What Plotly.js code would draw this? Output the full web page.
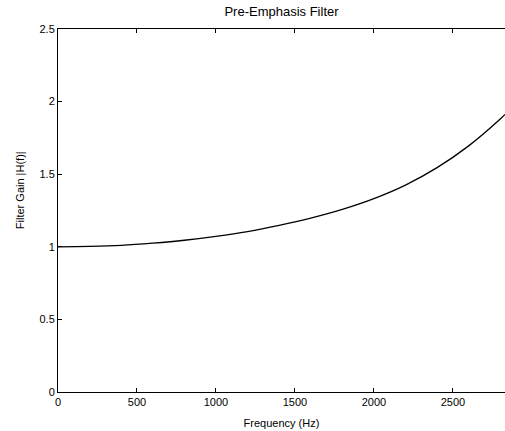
<!DOCTYPE html>
<html>
<head>
<meta charset="utf-8">
<script src="https://cdn.plot.ly/plotly-3.0.1.min.js"></script>
<style>html,body{margin:0;padding:0;background:#fff;}#chart{width:505px;height:431px;}</style>
</head>
<body>
<div id="chart"></div>
<script>
const freqHz = [0, 200, 400, 600, 800, 1000, 1200, 1400, 1600, 1800, 2000, 2200, 2400, 2600, 2800, 2830];
const gain = [1.000, 1.003, 1.010, 1.025, 1.045, 1.072, 1.105, 1.148, 1.198, 1.258, 1.332, 1.425, 1.545, 1.695, 1.880, 1.912];
const xTicks = [0, 500, 1000, 1500, 2000, 2500];
const yTicks = [0, 0.5, 1, 1.5, 2, 2.5];

const font = {family: 'Liberation Sans, Arial, sans-serif', size: 11, color: '#000000'};

Plotly.newPlot('chart', [{
  x: freqHz, y: gain, type: 'scatter', mode: 'lines', line: {color: '#000', width: 1.3, shape: 'spline', smoothing: 1}
}], {
  width: 505, height: 431,
  margin: {l: 58, r: 0, t: 29, b: 39},
  paper_bgcolor: '#fff', plot_bgcolor: '#fff',
  showlegend: false,
  font: font,
  title: {text: 'Pre-Emphasis Filter', font: {family: font.family, size: 13, color: '#000'},
          xref: 'paper', x: 0.5, xanchor: 'center', y: 0.985, yanchor: 'top'},
  xaxis: {
    range: [0, 2830], tickvals: xTicks, ticktext: xTicks.map(String),
    ticks: 'inside', ticklen: 4, tickcolor: '#000', showline: true, linecolor: '#000', linewidth: 1,
    mirror: 'ticks', showgrid: false, zeroline: false, tickfont: font,
    title: {text: 'Frequency (Hz)', font: font, standoff: 12}
  },
  yaxis: {
    range: [0, 2.5], tickvals: yTicks, ticktext: yTicks.map(String),
    ticks: 'inside', ticklen: 4, tickcolor: '#000', showline: true, linecolor: '#000', linewidth: 1,
    mirror: false, showgrid: false, zeroline: false, tickfont: font
  },
  annotations: [{
    text: 'Filter Gain |H(f)|', textangle: -90, showarrow: false,
    font: {family: font.family, size: 11, color: '#000000'},
    xref: 'paper', yref: 'paper', x: -0.085, y: 0.556, xanchor: 'center', yanchor: 'middle'
  }]
}, {staticPlot: true, displayModeBar: false});
</script>
</body>
</html>
